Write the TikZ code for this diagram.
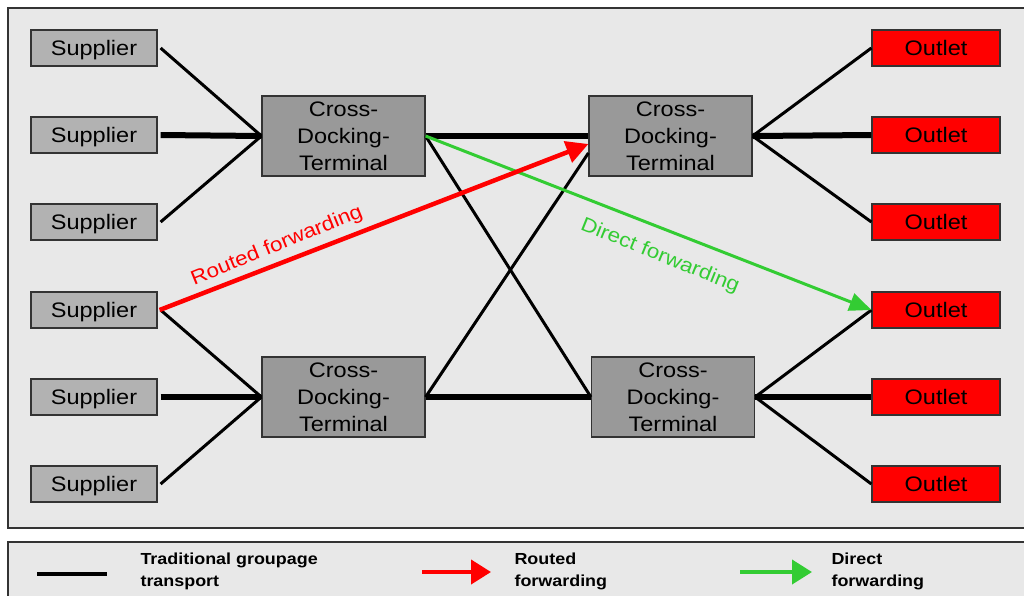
\documentclass[tikz,border=0pt]{standalone}
\usepackage{fontspec}
\setmainfont{Liberation Sans}[FakeStretch=1.12]
\usetikzlibrary{arrows.meta}
\definecolor{panel}{HTML}{E8E8E8}
\definecolor{supfill}{HTML}{B2B2B2}
\definecolor{cdtfill}{HTML}{999999}
\definecolor{edgegray}{HTML}{333333}
\definecolor{routed}{HTML}{FF0000}
\definecolor{direct}{HTML}{33CC33}
\begin{document}
\begin{tikzpicture}[x=1pt,y=-1pt,
  box/.style={draw=edgegray,line width=1.2pt,inner sep=0pt,
    font=\fontsize{21}{27}\selectfont,text=black},
  supplier/.style={box,fill=supfill,minimum width=126pt,minimum height=36pt,
    text height=15pt,text depth=0pt},
  outlet/.style={box,fill=routed,minimum width=128pt,minimum height=36pt,
    text height=15pt,text depth=0pt},
  cdt/.style={box,fill=cdtfill,minimum width=163pt,minimum height=80pt,align=center},
  thinlink/.style={line width=3pt,black},
  mainlink/.style={line width=6pt,black},
  routedarrow/.style={line width=4.5pt,routed,-{Triangle[length=22pt,width=22pt]}},
  directarrow/.style={line width=3pt,direct,-{Triangle[length=22pt,width=18pt]}},
  flowlabel/.style={font=\fontsize{20}{22}\selectfont},
  legendtext/.style={font=\bfseries\fontsize{16}{22}\selectfont,align=left,anchor=west}
]
\useasboundingbox (0,0) rectangle (1024,595);
\fill[white] (0,0) rectangle (1024,595);

% panels
\draw[fill=panel,draw=edgegray,line width=1.2pt] (8,8) rectangle (1040,528);
\draw[fill=panel,draw=edgegray,line width=1.2pt] (8,542) rectangle (1040,610);

% suppliers
\node[supplier] (s1) at (94,48) {Supplier};
\node[supplier] (s2) at (94,135) {Supplier};
\node[supplier] (s3) at (94,222) {Supplier};
\node[supplier] (s4) at (94,310) {Supplier};
\node[supplier] (s5) at (94,397) {Supplier};
\node[supplier] (s6) at (94,484) {Supplier};

% outlets
\node[outlet] (o1) at (936,48) {Outlet};
\node[outlet] (o2) at (936,135) {Outlet};
\node[outlet] (o3) at (936,222) {Outlet};
\node[outlet] (o4) at (936,310) {Outlet};
\node[outlet] (o5) at (936,397) {Outlet};
\node[outlet] (o6) at (936,484) {Outlet};

% cross-docking terminals
\node[cdt] (c1) at (343.5,136) {Cross-\\Docking-\\Terminal};
\node[cdt] (c2) at (670.5,136) {Cross-\\Docking-\\Terminal};
\node[cdt] (c3) at (343.5,397) {Cross-\\Docking-\\Terminal};
\node[cdt] (c4) at (673,397) {Cross-\\Docking-\\Terminal};

\coordinate (c2low) at ([yshift=-17pt]c2.west);
\coordinate (c2tip) at ([yshift=-8pt]c2.west);

% supplier feeders
\draw[thinlink] ([xshift=3pt]s1.east) -- (c1.west);
\draw[mainlink] ([xshift=3pt]s2.east) -- (c1.west);
\draw[thinlink] ([xshift=3pt]s3.east) -- (c1.west);
\draw[thinlink] ([xshift=3pt]s4.east) -- (c3.west);
\draw[mainlink] ([xshift=3pt]s5.east) -- (c3.west);
\draw[thinlink] ([xshift=3pt]s6.east) -- (c3.west);

% terminal to terminal
\draw[mainlink] (c1.east) -- (c2.west);
\draw[thinlink] (c1.east) -- (c4.west);
\draw[mainlink] (c3.east) -- (c4.west);
\draw[thinlink] (c3.east) -- (c2low);

% outlet distribution
\draw[thinlink] (c2.east) -- (o1.west);
\draw[mainlink] (c2.east) -- (o2.west);
\draw[thinlink] (c2.east) -- (o3.west);
\draw[thinlink] (c4.east) -- (o4.west);
\draw[mainlink] (c4.east) -- (o5.west);
\draw[thinlink] (c4.east) -- (o6.west);

% forwarding flows
\draw[directarrow] (c1.east) -- (o4.west);
\draw[routedarrow] ([xshift=2pt]s4.east) -- (c2tip);
\node[flowlabel,text=routed,rotate=22] (rl) at (277,246) {Routed forwarding};
\node[flowlabel,text=direct,rotate=-22] (dl) at (660,256) {Direct forwarding};

% legend
\coordinate (lg1a) at (37,574); \coordinate (lg1b) at (107,574);
\draw[line width=4pt,black] (lg1a) -- (lg1b);
\node[legendtext] (lt1) at (137,571) {Traditional groupage\\transport};
\coordinate (lg2a) at (422,572); \coordinate (lg2b) at (491,572);
\draw[line width=4pt,routed,-{Triangle[length=20pt,width=24pt]}] (lg2a) -- (lg2b);
\node[legendtext] (lt2) at (511,571) {Routed\\forwarding};
\coordinate (lg3a) at (740,572); \coordinate (lg3b) at (812,572);
\draw[line width=4pt,direct,-{Triangle[length=20pt,width=24pt]}] (lg3a) -- (lg3b);
\node[legendtext] (lt3) at (828,571) {Direct\\forwarding};
\end{tikzpicture}
\end{document}
